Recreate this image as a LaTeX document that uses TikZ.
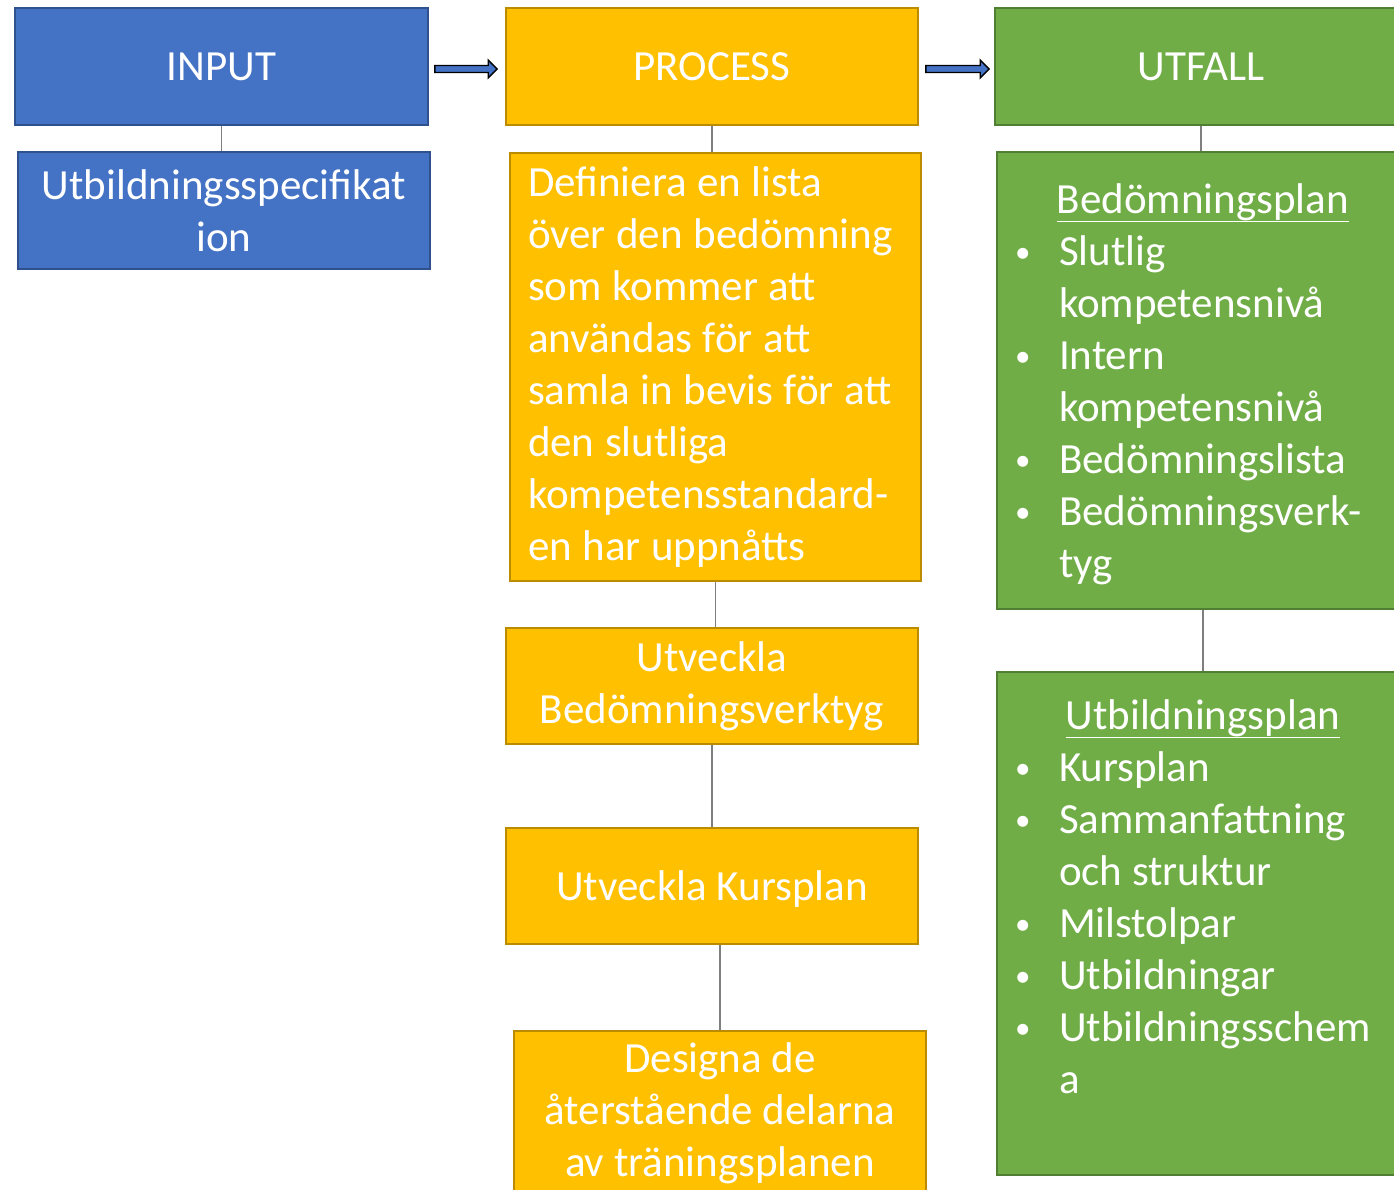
\documentclass[tikz,border=0pt]{standalone}
\usepackage{fontspec}
\setmainfont{Carlito}
\usetikzlibrary{calc}

\definecolor{inblue}{HTML}{4472C4}
\definecolor{inblueline}{HTML}{2F528F}
\definecolor{procorange}{HTML}{FFC000}
\definecolor{procline}{HTML}{BC8C00}
\definecolor{utgreen}{HTML}{70AD47}
\definecolor{utline}{HTML}{507E32}
\definecolor{linjegra}{HTML}{7F7F7F}

\newcommand\bpunkt[1]{\par\noindent\hangindent=62pt\hangafter=1\makebox[62pt][l]{\hspace{18pt}\raisebox{0.08em}{\scalebox{0.72}{\textbullet}}}#1}
\newcommand\streck[1]{\setbox0\hbox{#1}\rlap{\rule[-8.5pt]{\wd0}{1.8pt}}\box0}
\newcommand\pil[2]{%
  \draw[fill=inblue,line width=1.4pt,line join=miter] ($(#1)+(0,-3.5)$) -- ($(#2)+(-9,-3.5)$) -- ($(#2)+(-9,-9)$) -- (#2) -- ($(#2)+(-9,9)$) -- ($(#2)+(-9,3.5)$) -- ($(#1)+(0,3.5)$) -- cycle;}

\begin{document}
\begin{tikzpicture}[x=1pt,y=-1pt,
    ruta/.style={draw, line width=1.6pt, text=white, inner sep=0pt, align=center,
      font=\fontsize{43}{52}\selectfont},
    inruta/.style={ruta, fill=inblue, draw=inblueline},
    procruta/.style={ruta, fill=procorange, draw=procline},
    utruta/.style={ruta, fill=utgreen, draw=utline},
    linje/.style={draw=linjegra, line width=1.2pt}]
  \clip (0,0) rectangle (1394,1189);
  \fill[white] (0,0) rectangle (1394,1189);

  % input
  \node[inruta, minimum width=413, minimum height=117] (input) at (221.5,66.5) {INPUT};
  \node[inruta, minimum width=412, minimum height=117] (spec) at (224,210.5) {Utbildningsspecifikat\\ion};

  % process
  \node[procruta, minimum width=412, minimum height=117] (process) at (712,66.5) {PROCESS};
  \node[procruta, minimum height=428, text width=375, inner xsep=18pt, align=left] (definiera) at (715.5,367)
    {\spaceskip=10.5pt\relax
     \mbox{Definiera en lista}\\\mbox{över den bedömning}\\\mbox{som kommer att}\\\mbox{användas för att}\\\mbox{samla in bevis för att}\\\mbox{den slutliga}\\\mbox{kompetensstandard-}\\\mbox{en har uppnåtts}};
  \node[procruta, minimum width=412, minimum height=116] (bedverktyg) at (712,686) {Utveckla\\Bedömningsverktyg};
  \node[procruta, minimum width=412, minimum height=116, text height=37pt, text depth=9pt] (kursplan) at (712,886) {Utveckla Kursplan};
  \node[procruta, minimum width=412, minimum height=164] (designa) at (720,1113) {Designa de\\återstående delarna\\av träningsplanen};

  % utfall
  \node[utruta, minimum width=412, minimum height=117] (utfall) at (1201,66.5) {UTFALL};
  \node[utruta] (bedplan) at (1203,380.5)
    {\parbox[c][457pt][t]{412pt}{\vspace*{32pt}
      \centerline{\streck{Bedömningsplan}}
      \bpunkt{Slutlig\\kompetensnivå}
      \bpunkt{Intern\\kompetensnivå}
      \bpunkt{Bedömningslista}
      \bpunkt{Bedömningsverk-\\tyg}}};
  \node[utruta] (utbplan) at (1203,923.5)
    {\parbox[c][503pt][t]{412pt}{\vspace*{28pt}
      \centerline{\streck{Utbildningsplan}}
      \bpunkt{Kursplan}
      \bpunkt{Sammanfattning\\och struktur}
      \bpunkt{Milstolpar}
      \bpunkt{Utbildningar}
      \bpunkt{Utbildningsschem\\a}}};

  % pilar
  \coordinate (p1s) at ($(input.east)+(6,2.5)$);
  \coordinate (p1e) at ($(process.west)+(-8,2.5)$);
  \coordinate (p2s) at ($(process.east)+(7,2.5)$);
  \coordinate (p2e) at ($(utfall.west)+(-5,2.5)$);
  \pil{p1s}{p1e}
  \pil{p2s}{p2e}

  % linjer
  \draw[linje] (input.south) -- (input.south |- spec.north);
  \draw[linje] (process.south) -- (process.south |- definiera.north);
  \draw[linje] (definiera.south) -- (definiera.south |- bedverktyg.north);
  \draw[linje] (bedverktyg.south) -- (bedverktyg.south |- kursplan.north);
  \draw[linje] (designa.north) -- (designa.north |- kursplan.south);
  \draw[linje] (utfall.south) -- (utfall.south |- bedplan.north);
  \draw[linje] (bedplan.south) -- (bedplan.south |- utbplan.north);
\end{tikzpicture}
\end{document}
